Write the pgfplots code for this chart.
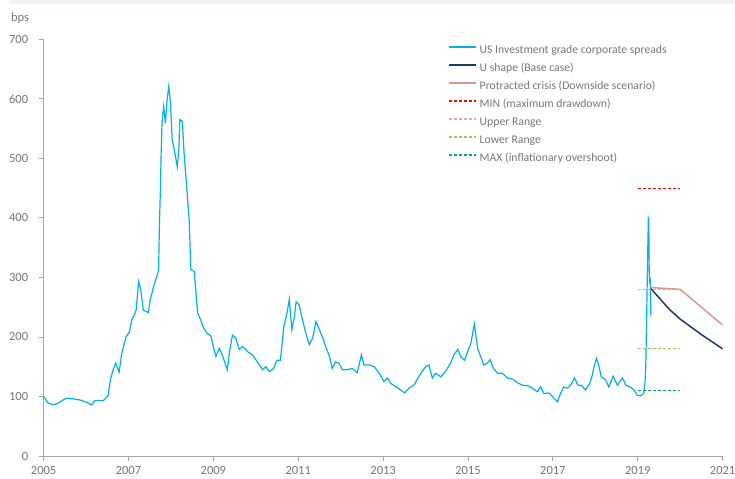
\documentclass[border=0pt]{standalone}
\usepackage{fontspec}
\setmainfont{Carlito}
\usepackage{pgfplots}
\pgfplotsset{compat=1.18}

\definecolor{igblue}{HTML}{00B0F0}
\definecolor{basenavy}{HTML}{1F3864}
\definecolor{protpink}{HTML}{DA9694}
\definecolor{minred}{HTML}{FF0000}
\definecolor{upperpink}{HTML}{E6A5A5}
\definecolor{lowergreen}{HTML}{92D050}
\definecolor{maxgreen}{HTML}{00B050}
\definecolor{axgray}{HTML}{A6A6A6}
\definecolor{txtgray}{HTML}{767676}
\definecolor{band}{HTML}{EEF5EC}

\begin{document}
\begin{tikzpicture}
\begin{axis}[
  name=main,
  scale only axis,
  width=679bp, height=416.7bp,
  xmin=2005, xmax=2021, ymin=0, ymax=700,
  axis x line*=bottom, axis y line*=left,
  xtick={2005,2007,...,2021},
  ytick={0,100,...,700},
  tick align=outside,
  major tick length=5bp,
  axis line style={axgray, line width=0.8bp},
  tick style={axgray, line width=0.8bp},
  /pgf/number format/1000 sep={},
  /pgf/number format/assume math mode=true,
  tick label style={font=\fontsize{12.5bp}{14bp}\selectfont, text=txtgray},
  yticklabel style={xshift=-7bp},
  xticklabel style={yshift=-2bp},
  legend style={at={(0.5956,0.995)}, anchor=north west, draw=none, fill=none,
    inner sep=0pt, row sep=0pt,
    nodes={inner sep=0pt, text height=12bp, text depth=6bp,
      font=\fontsize{11.7bp}{14bp}\selectfont, text=txtgray},
    /tikz/every odd column/.append style={column sep=3bp}},
  legend cell align=left,
  legend image code/.code={\draw[#1] (0bp,3.5bp) -- (27bp,3.5bp);},
]
\addplot[igblue, line width=1.2bp] coordinates {
(2005.00,100)(2005.11,89)(2005.23,86)(2005.35,89)(2005.43,93)(2005.54,97)
(2005.70,96)(2005.86,94)(2006.02,90)(2006.13,86)(2006.21,93)(2006.41,93)
(2006.52,102)(2006.58,130)(2006.64,145)(2006.70,156)(2006.78,141)(2006.84,172)
(2006.94,200)(2007.02,208)(2007.08,229)(2007.12,234)(2007.18,245)(2007.24,293)
(2007.29,279)(2007.35,245)(2007.47,241)(2007.51,262)(2007.59,284)(2007.69,307)
(2007.71,313)(2007.73,391)(2007.75,441)(2007.77,509)(2007.79,559)(2007.83,587)
(2007.87,559)(2007.91,598)(2007.95,621)(2007.99,593)(2008.03,531)(2008.08,514)
(2008.15,486)(2008.19,520)(2008.21,565)(2008.27,562)(2008.31,509)(2008.37,453)
(2008.43,397)(2008.47,313)(2008.55,310)(2008.63,240)(2008.70,229)(2008.77,215)
(2008.85,206)(2008.94,202)(2009.02,178)(2009.06,167)(2009.14,181)(2009.21,170)
(2009.29,153)(2009.33,145)(2009.37,170)(2009.45,203)(2009.53,198)(2009.61,179)
(2009.69,184)(2009.81,175)(2009.92,170)(2010.04,158)(2010.16,145)(2010.24,150)
(2010.32,142)(2010.42,147)(2010.50,161)(2010.58,161)(2010.66,217)(2010.74,242)
(2010.79,263)(2010.85,212)(2010.91,234)(2010.95,259)(2011.02,254)(2011.10,229)
(2011.18,206)(2011.26,187)(2011.34,198)(2011.42,226)(2011.50,212)(2011.58,198)
(2011.66,181)(2011.74,167)(2011.80,147)(2011.88,158)(2011.96,156)(2012.04,145)
(2012.16,145)(2012.27,147)(2012.39,140)(2012.49,170)(2012.55,153)(2012.67,153)
(2012.79,150)(2012.91,139)(2013.02,125)(2013.10,131)(2013.18,122)(2013.29,117)
(2013.41,111)(2013.51,106)(2013.61,114)(2013.73,119)(2013.82,131)(2013.92,142)
(2014.00,150)(2014.08,153)(2014.16,131)(2014.24,139)(2014.36,133)(2014.47,142)
(2014.59,156)(2014.67,170)(2014.76,179)(2014.83,167)(2014.92,161)(2014.99,175)
(2015.07,190)(2015.15,222)(2015.23,180)(2015.30,167)(2015.37,153)(2015.46,156)
(2015.52,162)(2015.60,147)(2015.70,139)(2015.81,139)(2015.93,131)(2016.05,129)
(2016.17,123)(2016.28,119)(2016.40,118)(2016.52,114)(2016.63,108)(2016.71,116)
(2016.79,105)(2016.91,106)(2017.03,97)(2017.11,91)(2017.18,105)(2017.26,116)
(2017.34,114)(2017.42,119)(2017.51,131)(2017.59,119)(2017.67,119)(2017.77,111)
(2017.87,122)(2017.93,136)(2017.98,153)(2018.03,164)(2018.08,153)(2018.14,133)
(2018.24,128)(2018.32,116)(2018.42,134)(2018.52,119)(2018.64,131)(2018.72,119)
(2018.82,116)(2018.91,111)(2018.99,102)(2019.07,101)(2019.14,105)(2019.17,122)
(2019.19,150)(2019.21,234)(2019.23,318)(2019.25,400)(2019.26,398)(2019.27,312)
(2019.28,290)(2019.29,300)(2019.30,290)(2019.31,234)
};
\addlegendentry{US Investment grade corporate spreads}
\addplot[basenavy, line width=1.5bp] coordinates {
(2019.30,282)(2019.50,266)(2019.75,246)(2020.00,230)(2020.50,204)(2021.00,180)
};
\addlegendentry{U shape (Base case)}
\addplot[protpink, line width=1.5bp] coordinates {
(2019.30,283)(2020.00,280)(2021.00,220)
};
\addlegendentry{Protracted crisis (Downside scenario)}
\addplot[minred, line width=1.2bp, dash pattern=on 3bp off 2bp] coordinates {
(2019.00,450)(2020.00,450)
};
\addlegendentry{MIN (maximum drawdown)}
\addplot[upperpink, line width=1.2bp, dash pattern=on 3bp off 2bp] coordinates {
(2019.00,280)(2020.00,280)
};
\addlegendentry{Upper Range}
\addplot[lowergreen, line width=1.2bp, dash pattern=on 3bp off 2bp] coordinates {
(2019.00,180)(2020.00,180)
};
\addlegendentry{Lower Range}
\addplot[maxgreen, line width=1.2bp, dash pattern=on 3bp off 2bp] coordinates {
(2019.00,110)(2020.00,110)
};
\addlegendentry{MAX (inflationary overshoot)}
\end{axis}
\node[anchor=center, text=txtgray, font=\fontsize{12.5bp}{14bp}\selectfont]
  at ([xshift=-23.6bp, yshift=21bp]main.north west) {bps};
\pgfresetboundingbox
\path[use as bounding box] (-43.6bp,-23bp) rectangle (691.4bp,456bp);
\fill[band] (-35bp,452bp) rectangle (691.4bp,456bp);
\end{tikzpicture}
\end{document}
